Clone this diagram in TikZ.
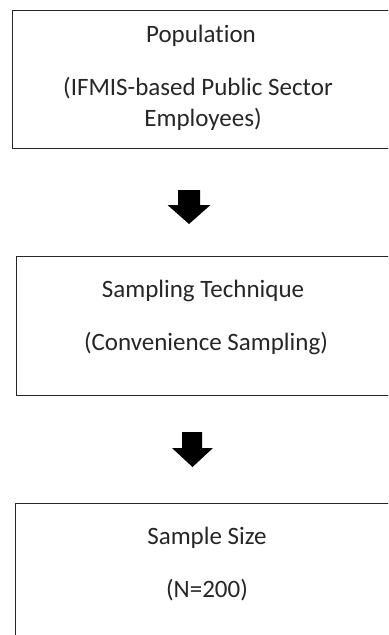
\documentclass[tikz,border=0pt]{standalone}
\usepackage{fontspec}
\setmainfont[RawFeature={-liga;-clig;-dlig;-calt}]{Carlito}
\begin{document}
\begin{tikzpicture}[x=1bp,y=-1bp,
  box/.style={draw=black!85, line width=1.3bp, rectangle, inner sep=0pt, anchor=north west},
  txt/.style={anchor=base, inner sep=0pt, text=black!85, font=\fontsize{25bp}{30bp}\selectfont},
  blockarrow/.style={fill=black}]
\useasboundingbox (0,0) rectangle (388,635);
\clip (0,0) rectangle (388,635);
% boxes
\node[box, minimum width=382bp, minimum height=138bp] (b1) at (12,10) {};
\node[box, minimum width=382bp, minimum height=139bp] (b2) at (16,256) {};
\node[box, minimum width=382bp, minimum height=200bp] (b3) at (15,503) {};
% texts
\node[txt] (t1a) at (201,43) {Population};
\node[txt] (t1b) at (198,96) {(IFMIS-based Public Sector};
\node[txt] (t1c) at (203,127) {Employees)};
\node[txt] (t2a) at (203,297) {Sampling Technique};
\node[txt] (t2b) at (206,350) {(Convenience Sampling)};
\node[txt] (t3a) at (207,544) {Sample Size};
\node[txt] (t3b) at (207,597) {(N=200)};
% block arrows
\fill[blockarrow] (178,190) -- (200,190) -- (200,205) -- (210.5,205) -- (189,224) -- (167.5,205) -- (178,205) -- cycle;
\fill[blockarrow] (182,432) -- (202,432) -- (202,448) -- (213,448) -- (192.5,467) -- (172,448) -- (182,448) -- cycle;
\end{tikzpicture}
\end{document}
